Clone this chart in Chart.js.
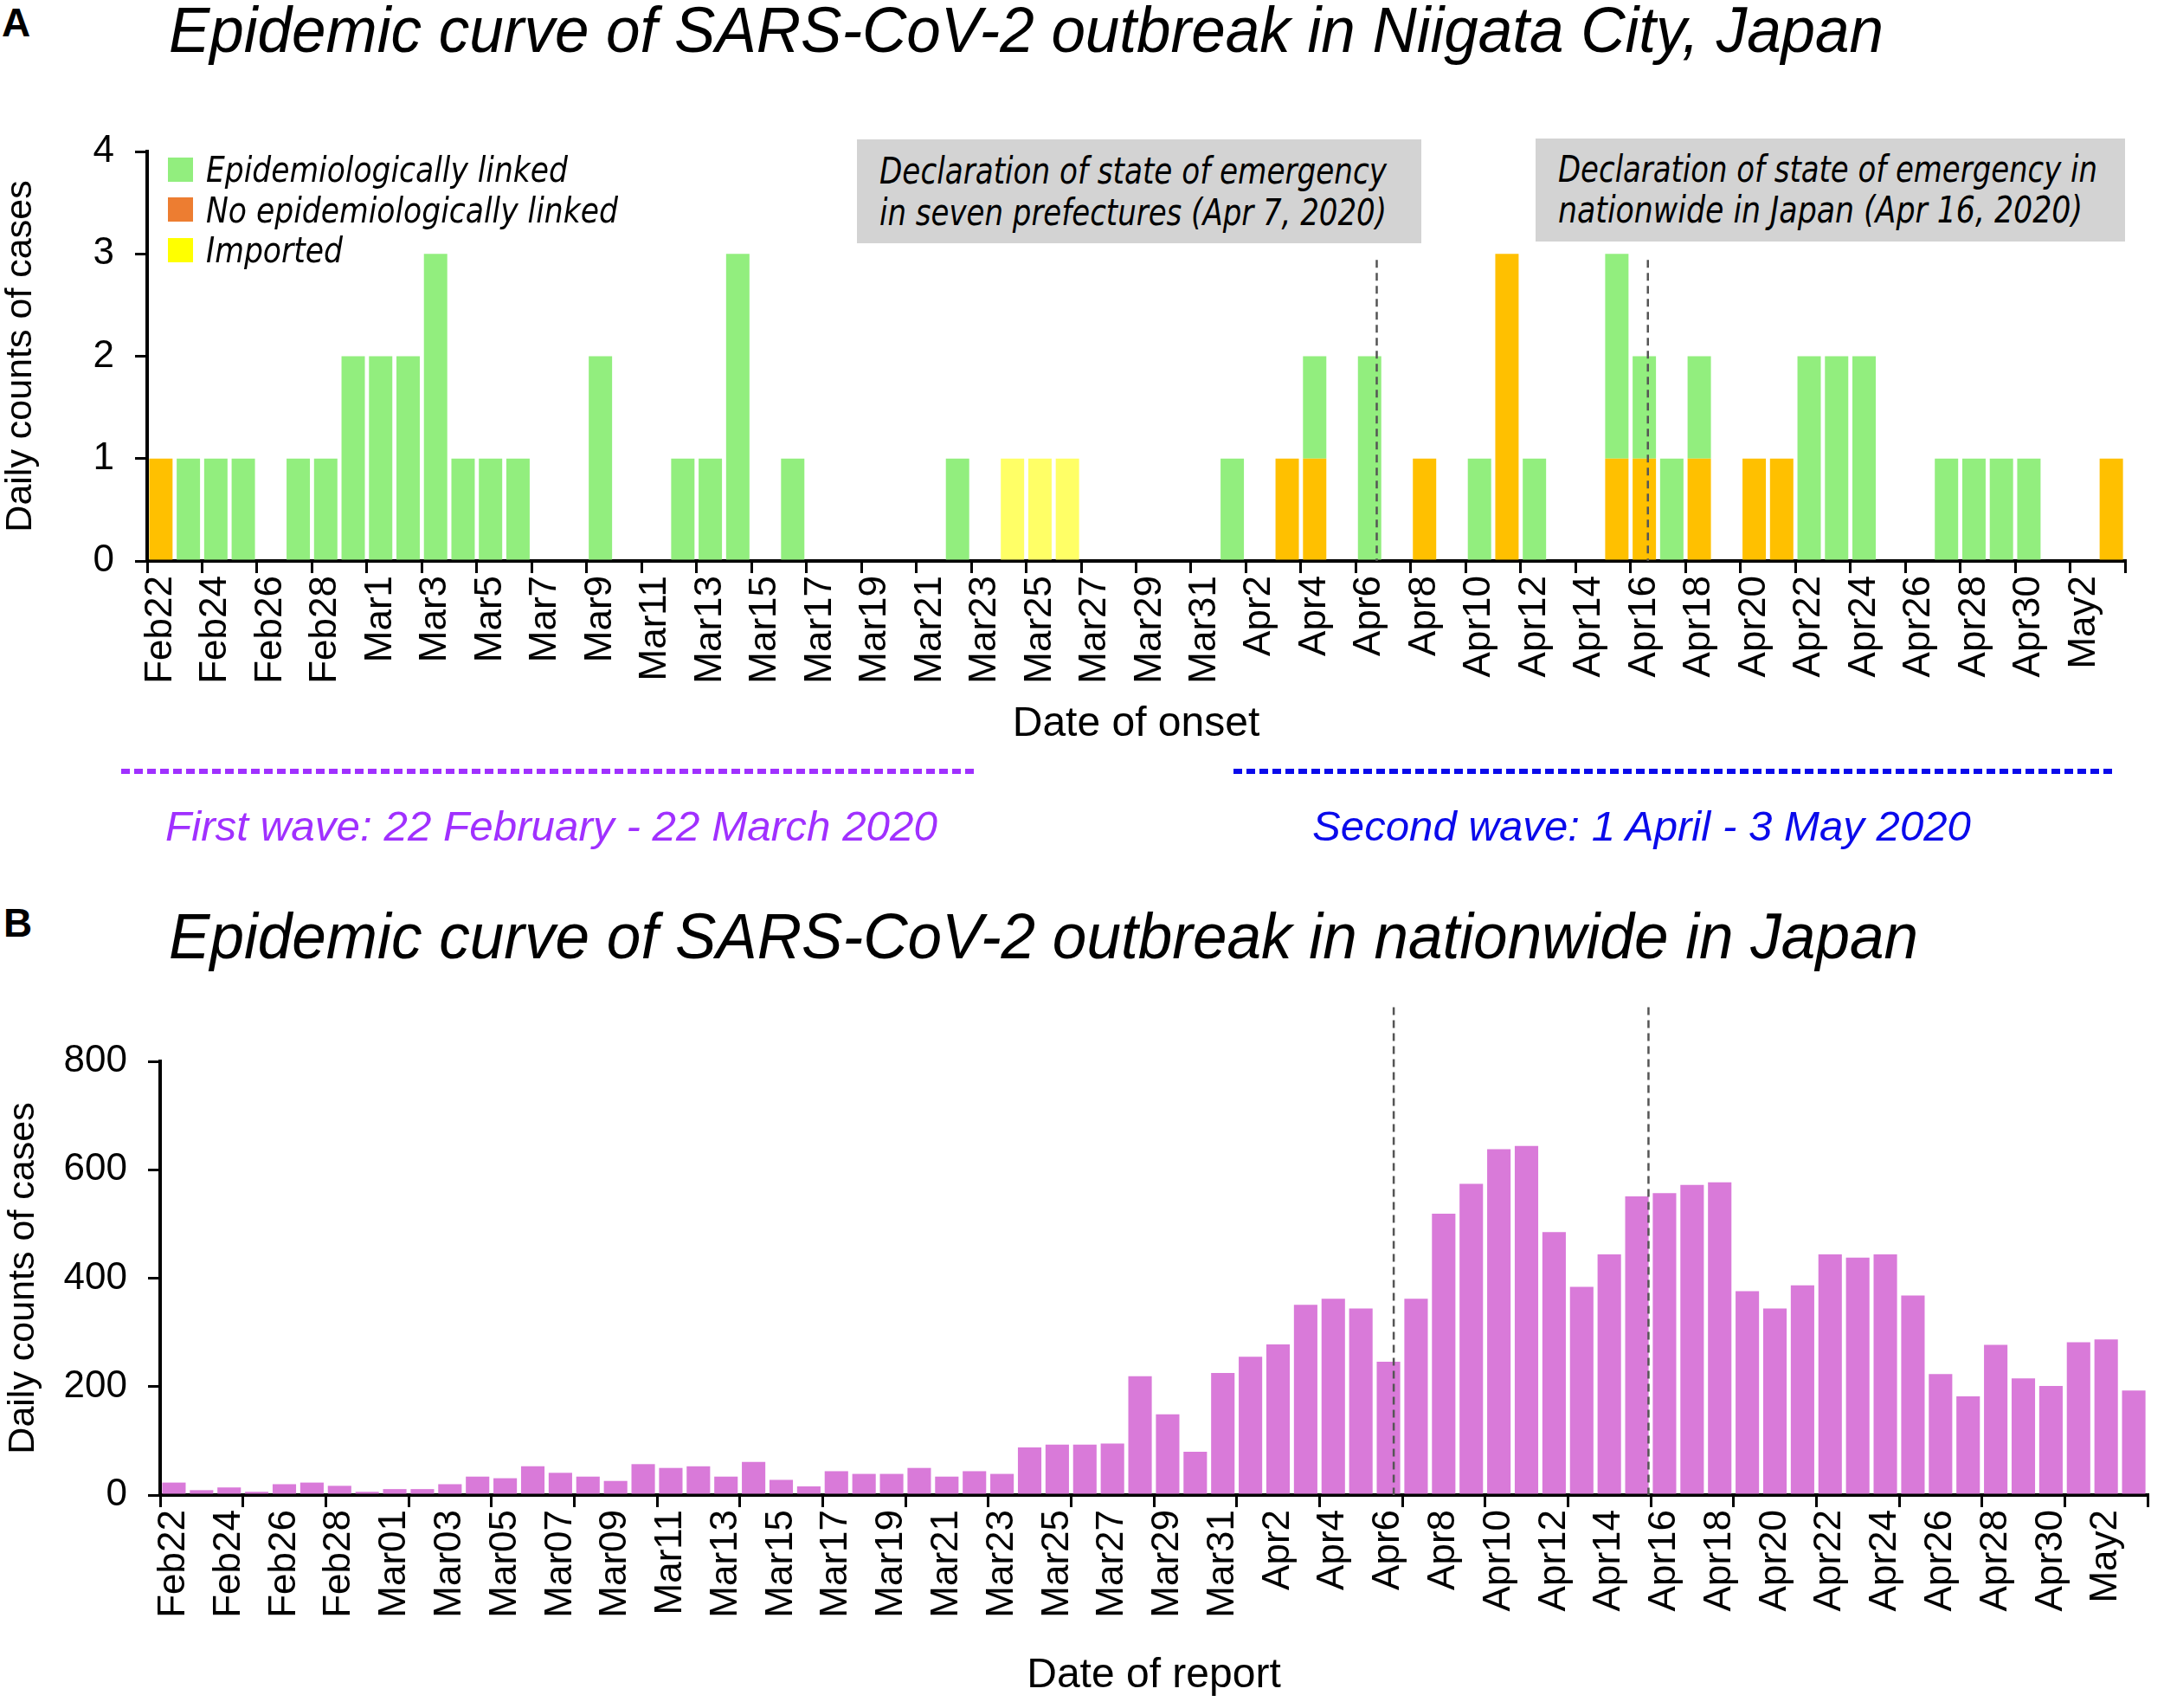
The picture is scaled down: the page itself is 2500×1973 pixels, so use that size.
<!DOCTYPE html>
<html>
<head>
<meta charset="utf-8">
<script src="https://cdn.jsdelivr.net/npm/chart.js@4.4.1/dist/chart.umd.min.js"></script>
<style>
  body { margin: 0; background: #fff; }
  #page { position: relative; width: 2500px; height: 1973px; overflow: hidden; font-family: "Liberation Sans", Arial, sans-serif; }
  canvas { position: absolute; left: 0; }
  .txt { position: absolute; white-space: nowrap; line-height: 1; transform-origin: left center; transform: translateY(-50%); }
  .panel { font-weight: bold; font-size: 46px; }
  .title { font-style: italic; font-size: 74px; }
  .narrow { font-family: "Liberation Sans Narrow", "Arial Narrow", "DejaVu Sans Condensed", sans-serif; font-style: italic; }
  .box { position: absolute; background: #d3d3d3; }
  .swatch { position: absolute; width: 29px; height: 28px; }
  .wave { position: absolute; height: 6px; }
</style>
</head>
<body>
<div id="page">
  <canvas id="niigata" width="2500" height="725" style="top:145px;width:2500px;height:725px"></canvas>
  <canvas id="nationwide" width="2500" height="823" style="top:1150px;width:2500px;height:823px"></canvas>

  <div class="txt panel" style="left:2px;top:26px">A</div>
  <div class="txt title fit" data-w="1981" style="left:195px;top:35px">Epidemic curve of SARS-CoV-2 outbreak in Niigata City, Japan</div>

  <div class="box" style="left:990px;top:161px;width:652px;height:120px"></div>
  <div class="txt narrow fit" data-w="586" style="left:1016px;top:198px;font-size:42px">Declaration of state of emergency</div>
  <div class="txt narrow fit" data-w="586" style="left:1016px;top:246px;font-size:42px">in seven prefectures (Apr 7, 2020)</div>

  <div class="box" style="left:1774px;top:160px;width:681px;height:119px"></div>
  <div class="txt narrow fit" data-w="623" style="left:1800px;top:196px;font-size:42px">Declaration of state of emergency in</div>
  <div class="txt narrow fit" data-w="606" style="left:1800px;top:243px;font-size:42px">nationwide in Japan (Apr 16, 2020)</div>

  <div class="swatch" style="left:194px;top:182px;background:#92ee7e"></div>
  <div class="swatch" style="left:194px;top:228px;background:#ed7d31"></div>
  <div class="swatch" style="left:194px;top:275px;background:#ffff00"></div>
  <div class="txt narrow fit" data-w="418" style="left:238px;top:196px;font-size:40px">Epidemiologically linked</div>
  <div class="txt narrow fit" data-w="476" style="left:238px;top:243px;font-size:40px">No epidemiologically linked</div>
  <div class="txt narrow fit" data-w="158" style="left:238px;top:289px;font-size:40px">Imported</div>

  <div class="wave" style="left:140px;top:888px;width:986px;background:repeating-linear-gradient(90deg,#a030ff 0 10px,transparent 10px 15px)"></div>
  <div class="wave" style="left:1425px;top:888px;width:1017px;background:repeating-linear-gradient(90deg,#0a0aeb 0 10px,transparent 10px 15px)"></div>
  <div class="txt fit" data-w="892" style="left:191px;top:955px;font-size:48px;font-style:italic;color:#a030ff">First wave: 22 February - 22 March 2020</div>
  <div class="txt fit" data-w="761" style="left:1516px;top:955px;font-size:48px;font-style:italic;color:#0a0aeb">Second wave: 1 April - 3 May 2020</div>

  <div class="txt panel" style="left:4px;top:1066px">B</div>
  <div class="txt title fit" data-w="2021" style="left:195px;top:1082px">Epidemic curve of SARS-CoV-2 outbreak in nationwide in Japan</div>
</div>

<script>
// categories (date of onset / date of report)
const onsetDays = ['Feb22','Feb23','Feb24','Feb25','Feb26','Feb27','Feb28','Feb29',
  'Mar1','Mar2','Mar3','Mar4','Mar5','Mar6','Mar7','Mar8','Mar9','Mar10',
  'Mar11','Mar12','Mar13','Mar14','Mar15','Mar16','Mar17','Mar18','Mar19','Mar20',
  'Mar21','Mar22','Mar23','Mar24','Mar25','Mar26','Mar27','Mar28','Mar29','Mar30','Mar31',
  'Apr1','Apr2','Apr3','Apr4','Apr5','Apr6','Apr7','Apr8','Apr9','Apr10',
  'Apr11','Apr12','Apr13','Apr14','Apr15','Apr16','Apr17','Apr18','Apr19','Apr20',
  'Apr21','Apr22','Apr23','Apr24','Apr25','Apr26','Apr27','Apr28','Apr29','Apr30',
  'May1','May2','May3'];

const reportDays = ['Feb22','Feb23','Feb24','Feb25','Feb26','Feb27','Feb28','Feb29',
  'Mar01','Mar02','Mar03','Mar04','Mar05','Mar06','Mar07','Mar08','Mar09','Mar10',
  'Mar11','Mar12','Mar13','Mar14','Mar15','Mar16','Mar17','Mar18','Mar19','Mar20',
  'Mar21','Mar22','Mar23','Mar24','Mar25','Mar26','Mar27','Mar28','Mar29','Mar30','Mar31',
  'Apr1','Apr2','Apr3','Apr4','Apr5','Apr6','Apr7','Apr8','Apr9','Apr10',
  'Apr11','Apr12','Apr13','Apr14','Apr15','Apr16','Apr17','Apr18','Apr19','Apr20',
  'Apr21','Apr22','Apr23','Apr24','Apr25','Apr26','Apr27','Apr28','Apr29','Apr30',
  'May1','May2','May3'];

// Niigata City, daily cases by onset
const linked = [0,1,1,1,0,1,1,2,
  2,2,3,1,1,1,0,0,2,0,0,1,1,3,0,1,0,0,0,0,0,1,0,0,0,0,0,0,0,0,0,
  1,0,0,1,0,2,0,0,0,1,0,1,0,0,2,1,1,1,0,0,0,2,2,2,0,0,1,1,1,1,
  0,0,0];
const notLinked = [1,0,0,0,0,0,0,0,
  0,0,0,0,0,0,0,0,0,0,0,0,0,0,0,0,0,0,0,0,0,0,0,0,0,0,0,0,0,0,0,
  0,0,1,1,0,0,0,1,0,0,3,0,0,0,1,1,0,1,0,1,1,0,0,0,0,0,0,0,0,0,
  0,0,1];
const imported = [0,0,0,0,0,0,0,0,
  0,0,0,0,0,0,0,0,0,0,0,0,0,0,0,0,0,0,0,0,0,0,0,1,1,1,0,0,0,0,0,
  0,0,0,0,0,0,0,0,0,0,0,0,0,0,0,0,0,0,0,0,0,0,0,0,0,0,0,0,0,0,
  0,0,0];

// Japan nationwide, daily cases by report
const nationwide = [23,9,14,6,20,23,17,6,
  11,11,20,34,31,53,41,34,26,57,50,53,34,61,28,16,44,39,39,50,34,44,39,88,93,93,95,219,149,80,225,
  255,278,351,362,344,246,362,519,574,638,644,485,384,444,551,557,572,577,376,344,387,444,438,444,368,223,182,277,215,201,
  282,287,193];

const niigataTicks = [0,1,2,3,4];
const nationwideTicks = [0,200,400,600,800];

// dashed lines for the emergency declarations
const emergencyLines = {
  id: 'emergencyLines',
  afterDatasetsDraw(chart, args, opts) {
    const {ctx, scales: {x, y}} = chart;
    ctx.save();
    ctx.strokeStyle = '#555';
    ctx.lineWidth = 2.5;
    ctx.setLineDash([9, 6]);
    opts.at.forEach(v => {
      const px = x.getPixelForValue(v);
      ctx.beginPath();
      ctx.moveTo(px, y.getPixelForValue(opts.top));
      ctx.lineTo(px, y.getPixelForValue(0));
      ctx.stroke();
    });
    ctx.restore();
  }
};

const tickFont = {family: '"Liberation Sans", Arial, sans-serif', size: 44};

function xScale(labels, tickEvery, box, titleText) {
  return {
    stacked: true,
    afterFit: s => { s.height = box.h; s.paddingLeft = 0; s.paddingRight = 0; },
    grid: {
      offset: true, drawOnChartArea: false, tickLength: 14, lineWidth: 3,
      color: c => (c.index === undefined || c.index % tickEvery === 0) ? '#000' : 'rgba(0,0,0,0)'
    },
    border: {display: true, color: '#000', width: 4},
    ticks: {
      autoSkip: false, maxRotation: 90, minRotation: 90, padding: 3, color: '#000', font: tickFont,
      callback: (v, i) => i % 2 === 0 ? labels[i] : ''
    },
    title: {display: true, text: titleText, color: '#000',
      font: {family: '"Liberation Sans", Arial, sans-serif', size: 48, lineHeight: 1.2},
      padding: {top: 0, bottom: box.b}}
  };
}

function yScale(width, max, tickValues, titlePad) {
  return {
    stacked: true, min: 0, max: max,
    afterFit: s => { s.width = width; s.paddingTop = 0; s.paddingBottom = 0; },
    afterBuildTicks: s => { s.ticks = tickValues.map(v => ({value: v})); },
    grid: {drawOnChartArea: false, tickLength: 14, lineWidth: 3, color: '#000'},
    border: {display: true, color: '#000', width: 4},
    ticks: {padding: 24, color: '#000', font: tickFont},
    title: {display: true, text: 'Daily counts of cases', color: '#000',
      font: {family: '"Liberation Sans", Arial, sans-serif', size: 43, lineHeight: 1.1},
      padding: {top: titlePad, bottom: 0}}
  };
}

new Chart(document.getElementById('niigata'), {
  type: 'bar',
  data: {
    labels: onsetDays,
    datasets: [
      {label: 'No epidemiologically linked', data: notLinked, backgroundColor: '#ffc000'},
      {label: 'Epidemiologically linked', data: linked, backgroundColor: '#92ee7e'},
      {label: 'Imported', data: imported, backgroundColor: '#ffff66'}
    ]
  },
  plugins: [emergencyLines],
  options: {
    responsive: false,
    animation: false,
    devicePixelRatio: 1,
    layout: {padding: {top: 30, right: 45, left: 0, bottom: 0}},
    datasets: {bar: {categoryPercentage: 1, barPercentage: 0.85, borderWidth: 0}},
    plugins: {
      legend: {display: false},
      tooltip: {enabled: false},
      emergencyLines: {at: [44.26, 54.13], top: 2.94}
    },
    scales: {
      x: xScale(onsetDays, 2, {h: 222, b: 4}, 'Date of onset'),
      y: yScale(170, 4, niigataTicks, 0)
    }
  }
});

new Chart(document.getElementById('nationwide'), {
  type: 'bar',
  data: {
    labels: reportDays,
    datasets: [
      {label: 'Daily counts of cases', data: nationwide, backgroundColor: '#d97ad9'}
    ]
  },
  plugins: [emergencyLines],
  options: {
    responsive: false,
    animation: false,
    devicePixelRatio: 1,
    layout: {padding: {top: 76, right: 19, left: 0, bottom: 0}},
    datasets: {bar: {categoryPercentage: 1, barPercentage: 0.85, borderWidth: 0}},
    plugins: {
      legend: {display: false},
      tooltip: {enabled: false},
      emergencyLines: {at: [44.19, 53.42], top: 900}
    },
    scales: {
      x: xScale(reportDays, 3, {h: 246, b: 8}, 'Date of report'),
      y: yScale(185, 800, nationwideTicks, 3)
    }
  }
});

// squeeze overlay texts to the widths measured on the figure
function fitTexts() {
  document.querySelectorAll('.fit').forEach(el => {
    el.style.transform = 'translateY(-50%)';
    const w = el.getBoundingClientRect().width;
    const s = +el.dataset.w / w;
    el.style.transform = 'translateY(-50%) scaleX(' + s.toFixed(4) + ')';
  });
}
fitTexts();
if (document.fonts) document.fonts.ready.then(fitTexts);
</script>
</body>
</html>
